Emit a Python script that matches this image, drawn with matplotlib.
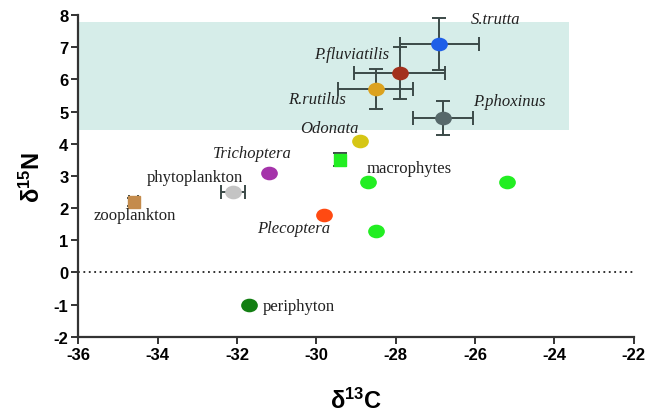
import numpy as np
import matplotlib
matplotlib.use("Agg")
import matplotlib.pyplot as plt
from matplotlib.path import Path
from matplotlib.transforms import Affine2D

plt.rcParams["axes.unicode_minus"] = False
plt.rcParams["mathtext.fontset"] = "custom"
plt.rcParams["mathtext.bf"] = "Liberation Sans:bold"
plt.rcParams["mathtext.rm"] = "Liberation Sans:bold"

# isotope means (d13C, d15N) and standard deviations
names = ["S.trutta", "P.fluviatilis", "R.rutilus", "P.phoxinus", "Odonata",
         "macrophytes", "Trichoptera", "phytoplankton", "zooplankton",
         "Plecoptera", "periphyton"]
d13c = [-26.9, -27.9, -28.5, -26.8, -28.9, -29.4, -31.2, -32.1, -34.6, -29.8, -31.7]
d15n = [7.1, 6.2, 5.7, 4.8, 4.1, 3.5, 3.1, 2.5, 2.2, 1.8, -1.0]
sd13c = [1.0, 1.15, 0.95, 0.75, 0, 0.12, 0, 0.3, 0.12, 0, 0]
sd15n = [0.8, 0.8, 0.62, 0.52, 0, 0.2, 0, 0, 0.12, 0, 0]
colors = ["#1f5fe8", "#a3301c", "#dca21e", "#56686a", "#d6c614", "#22ee22",
          "#a533aa", "#c4c4c4", "#c48b4c", "#ff4a12", "#137f13"]

# extra macrophyte samples
macro_c = [-28.7, -25.2, -28.5]
macro_n = [2.8, 2.8, 1.3]

# label positions (left edge, centre) and style
label_x = [-26.1, -30.05, -30.7, -26.05, -30.4, -28.73, -32.6, -34.27, -35.6, -31.5, -31.35]
label_y = [7.88, 6.8, 5.38, 5.33, 4.48, 3.25, 3.7, 2.96, 1.8, 1.38, -1.05]
italic = [True, True, True, True, True, False, True, False, False, True, False]

fish_band = (-36, -23.63, 4.43, 7.79)

ellipse = Path.unit_circle().transformed(Affine2D().scale(1.25, 1.0))

fig = plt.figure(figsize=(6.46, 4.14), dpi=100)
ax = fig.add_axes([0.121, 0.184, 0.86, 0.777])

x0, x1, y0, y1 = fish_band
ax.fill_between([x0, x1], y0, y1, color="#d6ede9", lw=0, zorder=0)
ax.axhline(0, color="#222222", ls=(0, (1, 2)), lw=1.3, zorder=1)

for i in range(len(names)):
    if sd13c[i] or sd15n[i]:
        ax.errorbar(d13c[i], d15n[i], xerr=sd13c[i] or None, yerr=sd15n[i] or None,
                    fmt="none", ecolor="#3b4a48", elinewidth=1.4, capsize=5,
                    capthick=1.4, zorder=2)
    if names[i] in ("macrophytes", "zooplankton"):
        ax.plot(d13c[i], d15n[i], marker="s", ms=8, color=colors[i],
                mec=colors[i], ls="none", zorder=3)
    else:
        ax.plot(d13c[i], d15n[i], marker=ellipse, ms=11, color=colors[i],
                mec=colors[i], ls="none", zorder=3)
    ax.text(label_x[i], label_y[i], names[i], family="Liberation Serif",
            style="italic" if italic[i] else "normal", fontsize=12,
            ha="left", va="center", color="#222222", zorder=4)

ax.plot(macro_c, macro_n, marker=ellipse, ms=11, color="#22ee22", ls="none", zorder=3)

ax.set_xlim(-36, -22)
ax.set_ylim(-2, 8)
ax.set_xticks(np.arange(-36, -21, 2))
ax.set_yticks(np.arange(-2, 9, 1))
for s in ("top", "right"):
    ax.spines[s].set_visible(False)
for s in ("left", "bottom"):
    ax.spines[s].set_linewidth(1.6)
    ax.spines[s].set_color("#333333")
ax.tick_params(direction="out", length=5, width=1.4, color="#333333", pad=2)
for lab in ax.get_xticklabels() + ax.get_yticklabels():
    lab.set_family("Liberation Sans")
    lab.set_fontweight("bold")
    lab.set_fontsize(12)

ax.set_xlabel(r"$\mathbf{\delta^{13}C}$", fontsize=17, labelpad=19)
ax.set_ylabel(r"$\mathbf{\delta^{15}N}$", fontsize=17)
ax.yaxis.set_label_coords(-0.06, 0.5)

fig.savefig("out.png", dpi=100)
